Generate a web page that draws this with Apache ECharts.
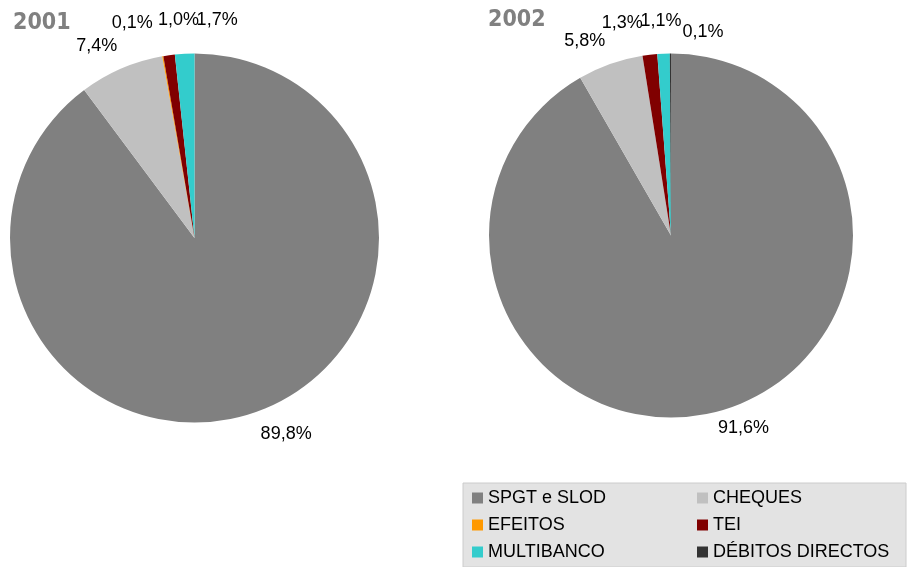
<!DOCTYPE html>
<html>
<head>
<meta charset="utf-8">
<script src="https://cdn.jsdelivr.net/npm/echarts@6/dist/echarts.min.js"></script>
<style>
  html, body { margin: 0; padding: 0; background: #fff; }
  #chart { width: 911px; height: 567px; }
</style>
</head>
<body>
<div id="chart"></div>
<script>
// Payment system shares (% of value), 2001 and 2002
const categories = ['SPGT e SLOD', 'CHEQUES', 'EFEITOS', 'TEI', 'MULTIBANCO', 'DÉBITOS DIRECTOS'];
const years = ['2001', '2002'];
const values2001 = [89.8, 7.4, 0.1, 1.0, 1.7, 0];
const values2002 = [91.6, 5.8, 0, 1.3, 1.1, 0.1];

const colors = ['#808080', '#c0c0c0', '#ff9900', '#800000', '#33cccc', '#333333'];

// label nudges (dx, dy) from the default outside anchor, per pie and slice
const labelNudges = [
  [[3, 21], [1, -23], [-5, -33], [35, -35], [58, -34], [0, 0]],
  [[-5, 17], [0, -23], [0, 0], [-2, -32], [23, -33], [58, -21]]
];

const fmt = v => v.toFixed(1).replace('.', ',') + '%';

function pieSeries(idx, values, center, radius) {
  return {
    type: 'pie',
    name: years[idx],
    center: center,
    radius: radius,
    startAngle: 90,
    clockwise: true,
    avoidLabelOverlap: false,
    animation: false,
    silent: true,
    itemStyle: { borderWidth: 0 },
    label: {
      show: true,
      position: 'outside',
      color: '#000',
      fontFamily: 'Liberation Sans, Arial, sans-serif',
      fontSize: 18,
      formatter: p => (p.value > 0 ? fmt(p.value) : '')
    },
    labelLine: { show: false, length: 0, length2: 0 },
    labelLayout: p => {
      const n = labelNudges[idx][p.dataIndex];
      return { dx: n[0], dy: n[1] };
    },
    data: categories.map((c, i) => ({ name: c, value: values[i] }))
  };
}

const chart = echarts.init(document.getElementById('chart'), null, { renderer: 'canvas' });

const colTwoText = { width: 180 };
chart.setOption({
  animation: false,
  color: colors,
  title: [
    {
      text: years[0], left: 13, top: 12, padding: 0,
      textStyle: { color: '#808080', fontSize: 23, fontWeight: 'bold', fontFamily: 'DejaVu Sans Condensed, DejaVu Sans, sans-serif' }
    },
    {
      text: years[1], left: 488, top: 9, padding: 0,
      textStyle: { color: '#808080', fontSize: 23, fontWeight: 'bold', fontFamily: 'DejaVu Sans Condensed, DejaVu Sans, sans-serif' }
    }
  ],
  legend: {
    left: 463,
    top: 483,
    width: 425,
    orient: 'horizontal',
    padding: [6, 13, 6, 9],
    itemGap: 9,
    itemWidth: 11,
    itemHeight: 11,
    icon: 'rect',
    backgroundColor: '#e3e3e3',
    borderColor: '#cccccc',
    borderWidth: 1,
    borderRadius: 0,
    selectedMode: false,
    textStyle: {
      color: '#000',
      fontSize: 18,
      lineHeight: 18,
      width: 200,
      fontFamily: 'Liberation Sans, Arial, sans-serif'
    },
    data: categories.map((c, i) => (i % 2 === 1 ? { name: c, textStyle: colTwoText } : { name: c }))
  },
  series: [
    pieSeries(0, values2001, [194.5, 238], 184.5),
    pieSeries(1, values2002, [671, 235.5], 182)
  ]
});
</script>
</body>
</html>
